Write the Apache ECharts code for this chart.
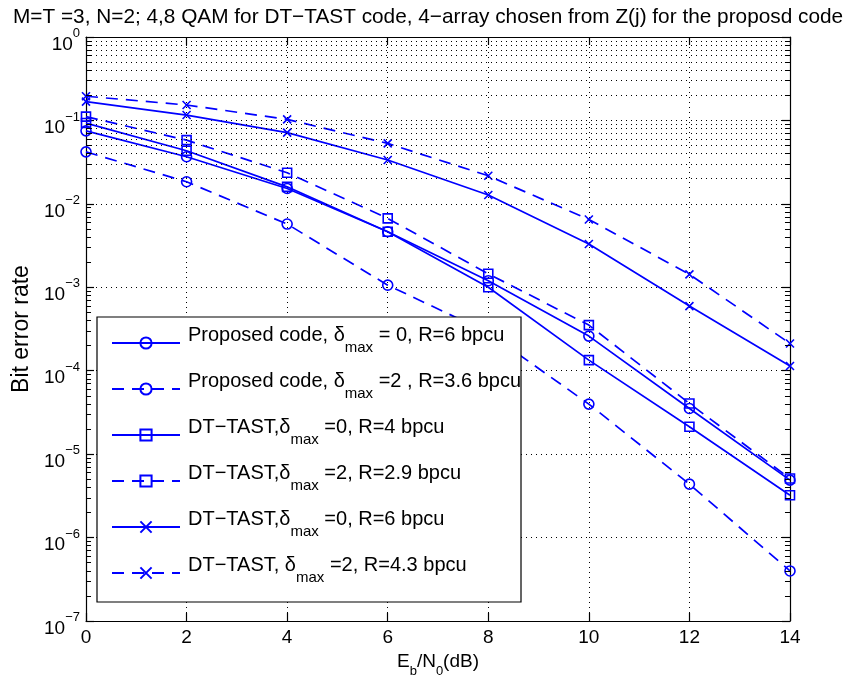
<!DOCTYPE html>
<html>
<head>
<meta charset="utf-8">
<script src="https://cdn.jsdelivr.net/npm/echarts@6/dist/echarts.min.js"></script>
<style>
html,body{margin:0;padding:0;background:#fff;}
#chart{width:847px;height:686px;}
</style>
</head>
<body>
<div id="chart"></div>
<script>
// ---- data ----
const snr = [0, 2, 4, 6, 8, 10, 12, 14];
const propD0R6  = [0.075, 0.0367, 0.0153, 0.00463, 0.0012, 2.6e-4, 3.53e-5, 4.88e-6];
const propD2R36 = [0.042, 0.0184, 0.00573, 0.00106, 2.85e-4, 3.98e-5, 4.37e-6, 3.98e-7];
const tastD0R4  = [0.093, 0.0433, 0.016, 0.00463, 1.0e-3, 1.34e-4, 2.13e-5, 3.22e-6];
const tastD2R29 = [0.111, 0.058, 0.0236, 0.0067, 1.45e-3, 3.52e-4, 4.05e-5, 5.1e-6];
const tastD0R6  = [0.168, 0.116, 0.0713, 0.0335, 0.01276, 3.3e-3, 5.95e-4, 1.14e-4];
const tastD2R43 = [0.195, 0.153, 0.103, 0.053, 0.0217, 6.5e-3, 1.43e-3, 2.12e-4];
const legendNames = [
  ['Proposed code, δ', ' = 0, R=6 bpcu'],
  ['Proposed code, δ', ' =2 , R=3.6 bpcu'],
  ['DT−TAST,δ', ' =0, R=4 bpcu'],
  ['DT−TAST,δ', ' =2, R=2.9 bpcu'],
  ['DT−TAST,δ', ' =0, R=6 bpcu'],
  ['DT−TAST, δ', ' =2, R=4.3 bpcu']
];
const titleText = 'M=T =3, N=2; 4,8 QAM for DT−TAST code, 4−array chosen from Z(j) for the proposd code';
const xTicks = [0, 2, 4, 6, 8, 10, 12, 14];
const yMin = 1e-7, yMax = 1;
const minorMultipliers = [2, 3, 4, 5, 6, 7, 8, 9];
const decades = [-7, -6, -5, -4, -3, -2, -1];

const FONT = 'Liberation Sans, Arial, Helvetica, sans-serif';
const BLUE = '#0000ff';
const xMark = 'path://M0,0L10,10M0,10L10,0';
const xMin = xTicks[0], xMax = xTicks[xTicks.length - 1];
const minorTickLen = 0.1; // in dB (data units)

const seriesDefs = [
  {vals: propD0R6,  dash: false, sym: 'circle', size: 10},
  {vals: propD2R36, dash: true,  sym: 'circle', size: 10},
  {vals: tastD0R4,  dash: false, sym: 'rect',   size: 9},
  {vals: tastD2R29, dash: true,  sym: 'rect',   size: 9},
  {vals: tastD0R6,  dash: false, sym: xMark,    size: 8},
  {vals: tastD2R43, dash: true,  sym: xMark,    size: 8}
];

const names = legendNames.map(n => n[0] + 'max' + n[1]);

const minorVals = [];
decades.forEach(d => minorMultipliers.forEach(m => minorVals.push(m * Math.pow(10, d))));

const series = seriesDefs.map((s, i) => ({
  name: names[i],
  type: 'line',
  xAxisIndex: 0, yAxisIndex: 0,
  data: snr.map((x, j) => [x, s.vals[j]]),
  symbol: s.sym,
  symbolSize: s.size,
  showAllSymbol: true,
  lineStyle: {color: BLUE, width: 1.7, type: s.dash ? [12, 8] : 'solid'},
  itemStyle: {color: 'none', borderColor: BLUE, borderWidth: 1.6},
  emphasis: {disabled: true},
  z: 3,
  animation: false
}));

// minor horizontal grid lines (dotted) via the library's y scale
series.push({
  name: '__grid',
  type: 'line',
  data: [],
  silent: true,
  markLine: {
    silent: true,
    symbol: ['none', 'none'],
    label: {show: false},
    lineStyle: {color: '#000', width: 1, type: [1, 4]},
    emphasis: {disabled: true},
    animation: false,
    data: minorVals.map(v => ({yAxis: v}))
  },
  z: 1
});

// minor ticks (inside) on left and right y axes
const tickPairs = [];
minorVals.forEach(v => {
  tickPairs.push([{coord: [xMin, v]}, {coord: [xMin + minorTickLen, v]}]);
  tickPairs.push([{coord: [xMax - minorTickLen, v]}, {coord: [xMax, v]}]);
});
series.push({
  name: '__ticks',
  type: 'line',
  data: [],
  silent: true,
  markLine: {
    silent: true,
    symbol: ['none', 'none'],
    label: {show: false},
    lineStyle: {color: '#000', width: 1, type: 'solid'},
    emphasis: {disabled: true},
    animation: false,
    data: tickPairs
  },
  z: 4
});

function supLabel(v) {
  const e = Math.round(Math.log10(v));
  const es = e < 0 ? '−' + (-e) : '' + e;
  return '{b|10}{s|' + es + '}';
}

const option = {
  animation: false,
  backgroundColor: '#fff',
  textStyle: {fontFamily: FONT},
  title: {
    text: titleText,
    left: 8, top: 2,
    textStyle: {fontFamily: FONT, fontSize: 20.8, fontWeight: 'normal', color: '#000'}
  },
  grid: {left: 86, right: 57, top: 37, bottom: 65, containLabel: false},
  legend: {
    data: names,
    orient: 'vertical',
    left: 97, top: 317,
    padding: [8, 0, 17, 14],
    itemWidth: 68, itemHeight: 14,
    itemGap: 16,
    backgroundColor: '#fff',
    borderColor: '#000', borderWidth: 1.2,
    selectedMode: false,
    formatter: function (name) {
      const i = names.indexOf(name);
      const p = legendNames[i];
      return '{t|' + p[0] + '}{sub|max}{t|' + p[1] + '}';
    },
    textStyle: {
      fontFamily: FONT, color: '#000', padding: [0, 0, 6, 3],
      rich: {
        t: {fontFamily: FONT, fontSize: 20, lineHeight: 20, verticalAlign: 'top', color: '#000'},
        sub: {fontFamily: FONT, fontSize: 15, lineHeight: 30, verticalAlign: 'bottom', color: '#000'}
      }
    },
    z: 10
  },
  xAxis: [{
    type: 'value', min: xMin, max: xMax, interval: 2,
    position: 'bottom',
    name: '{t|E}{sub|b}{t|/N}{sub|0}{t|(dB)}',
    nameLocation: 'middle', nameGap: 27,
    nameTextStyle: {
      rich: {
        t: {fontFamily: FONT, fontSize: 19, lineHeight: 19, verticalAlign: 'top', color: '#000'},
        sub: {fontFamily: FONT, fontSize: 13, lineHeight: 26, verticalAlign: 'bottom', color: '#000'}
      }
    },
    axisLine: {show: true, onZero: false, lineStyle: {color: '#000', width: 1.2}},
    axisTick: {show: true, inside: true, length: 8, lineStyle: {color: '#000', width: 1.2}},
    axisLabel: {fontFamily: FONT, fontSize: 19, color: '#000', margin: 7},
    splitLine: {show: true, lineStyle: {color: '#000', width: 1, type: [1, 4]}}
  }, {
    type: 'value', min: xMin, max: xMax, interval: 2,
    position: 'top',
    axisLine: {show: true, onZero: false, lineStyle: {color: '#000', width: 1.2}},
    axisTick: {show: true, inside: true, length: 8, lineStyle: {color: '#000', width: 1.2}},
    axisLabel: {show: false},
    splitLine: {show: false}
  }],
  yAxis: [{
    type: 'log', logBase: 10, min: yMin, max: yMax,
    position: 'left',
    name: 'Bit error rate',
    nameLocation: 'middle', nameGap: 45, nameRotate: 90,
    nameTextStyle: {fontFamily: FONT, fontSize: 23, color: '#000'},
    axisLine: {show: true, onZero: false, lineStyle: {color: '#000', width: 1.2}},
    axisTick: {show: true, inside: true, length: 8, lineStyle: {color: '#000', width: 1.2}},
    axisLabel: {
      margin: 6,
      padding: [7, 0, 0, 0],
      formatter: supLabel,
      rich: {
        b: {fontFamily: FONT, fontSize: 19, lineHeight: 27, verticalAlign: 'bottom', color: '#000'},
        s: {fontFamily: FONT, fontSize: 13, lineHeight: 13, verticalAlign: 'top', color: '#000'}
      }
    },
    splitLine: {show: true, lineStyle: {color: '#000', width: 1, type: [1, 4]}}
  }, {
    type: 'log', logBase: 10, min: yMin, max: yMax,
    position: 'right',
    axisLine: {show: true, onZero: false, lineStyle: {color: '#000', width: 1.2}},
    axisTick: {show: true, inside: true, length: 8, lineStyle: {color: '#000', width: 1.2}},
    axisLabel: {show: false},
    splitLine: {show: false}
  }],
  series: series
};

const chart = echarts.init(document.getElementById('chart'), null, {renderer: 'canvas'});
chart.setOption(option);
</script>
</body>
</html>
